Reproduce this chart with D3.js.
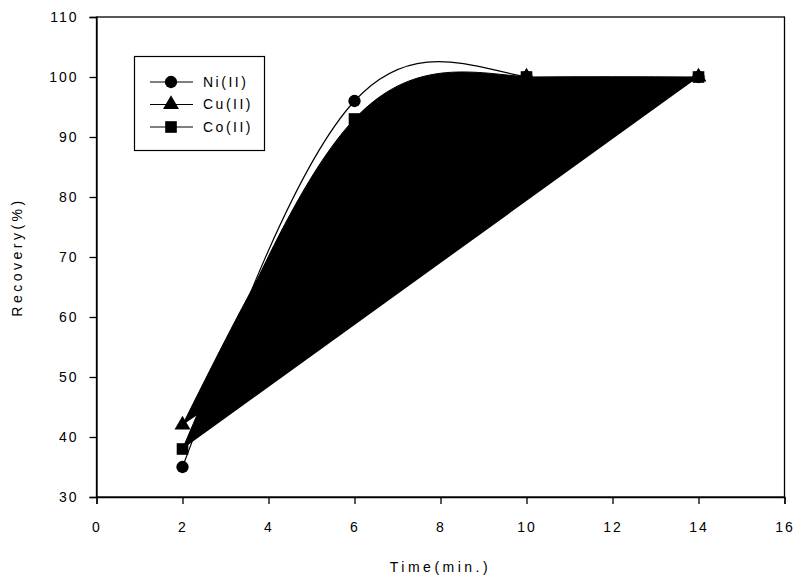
<!DOCTYPE html>
<html>
<head>
<meta charset="utf-8">
<script src="https://cdn.jsdelivr.net/npm/d3@7"></script>
<style>
  body { margin: 0; background: #fff; }
  text { font-family: "Liberation Sans", Arial, sans-serif; fill: #000; }
</style>
</head>
<body>
<svg width="794" height="576"></svg>
<script>
const times = [2, 6, 10, 14];
const ni = [35, 96, 100, 100];
const cu = [42, 90, 100, 100];
const co = [38, 93, 100, 100];
const xTicks = [0, 2, 4, 6, 8, 10, 12, 14, 16];
const yTicks = [30, 40, 50, 60, 70, 80, 90, 100, 110];

const svg = d3.select("svg");
const plotL = 96.5, plotR = 784.5, plotT = 17, plotB = 497;

const x = d3.scaleLinear().domain([0, 16]).range([plotL, plotR]);
const y = d3.scaleLinear().domain([30, 110]).range([plotB, plotT]);

// frame
svg.append("rect")
  .attr("x", plotL).attr("y", plotT)
  .attr("width", plotR - plotL).attr("height", plotB - plotT)
  .attr("fill", "none").attr("stroke", "#000").attr("stroke-width", 1.3);

const xAxis = svg.append("g")
  .attr("transform", `translate(0,${plotB})`)
  .call(d3.axisBottom(x).tickValues(xTicks).tickSize(7).tickPadding(18));
const yAxis = svg.append("g")
  .attr("transform", `translate(${plotL},0)`)
  .call(d3.axisLeft(y).tickValues(yTicks).tickSize(7).tickPadding(11));

[xAxis, yAxis].forEach(g => {
  g.select(".domain").attr("stroke-width", 1.3);
  g.selectAll(".tick line").attr("stroke-width", 1.3);
  g.selectAll(".tick text")
    .style("font-family", '"Liberation Sans", Arial, sans-serif')
    .style("font-size", "14px")
    .style("letter-spacing", "2px");
});

// curves: Cu and Co closed as filled shapes, Ni line only
const line = d3.line()
  .x((d, i) => x(times[i]))
  .y(d => y(d))
  .curve(d3.curveNatural);

svg.append("path").attr("d", line(cu)).attr("fill", "#000").attr("stroke", "#000").attr("stroke-width", 1);
svg.append("path").attr("d", line(co)).attr("fill", "#000").attr("stroke", "#000").attr("stroke-width", 1);
svg.append("path").attr("d", line(ni)).attr("fill", "none").attr("stroke", "#000").attr("stroke-width", 1.2);

const sym = {
  circle: d3.symbol().type(d3.symbolCircle).size(120),
  triangle: d3.symbol().type(d3.symbolTriangle).size(110),
  square: d3.symbol().type(d3.symbolSquare).size(135)
};

function markers(vals, s) {
  svg.append("g").selectAll("path")
    .data(vals)
    .join("path")
    .attr("transform", (d, i) => `translate(${x(times[i])},${y(d)})`)
    .attr("d", s)
    .attr("fill", "#000");
}
markers(ni, sym.circle);
markers(cu, sym.triangle);
markers(co, sym.square);

// legend
const legend = [
  { name: "Ni(II)", s: sym.circle },
  { name: "Cu(II)", s: sym.triangle },
  { name: "Co(II)", s: sym.square }
];
svg.append("rect")
  .attr("x", 134.5).attr("y", 56.5).attr("width", 130).attr("height", 94)
  .attr("fill", "#fff").attr("stroke", "#000").attr("stroke-width", 1.2);
const lg = svg.append("g").selectAll("g")
  .data(legend)
  .join("g")
  .attr("transform", (d, i) => `translate(0,${82 + i * 22.5})`);
lg.append("line").attr("x1", 150).attr("x2", 193).attr("stroke", "#000").attr("stroke-width", 1.2);
lg.append("path").attr("transform", "translate(171,0)").attr("d", d => d.s());
lg.append("text")
  .attr("x", 203).attr("dy", "0.35em")
  .style("font-size", "14px").style("letter-spacing", "2.5px")
  .text(d => d.name);

// axis titles
svg.append("text")
  .attr("x", (plotL + plotR) / 2).attr("y", 572)
  .attr("text-anchor", "middle")
  .style("font-size", "14px").style("letter-spacing", "3.5px")
  .text("Time(min.)");
svg.append("text")
  .attr("transform", `translate(22,${(plotT + plotB) / 2}) rotate(-90)`)
  .attr("text-anchor", "middle")
  .style("font-size", "14px").style("letter-spacing", "3.5px")
  .text("Recovery(%)");
</script>
</body>
</html>
